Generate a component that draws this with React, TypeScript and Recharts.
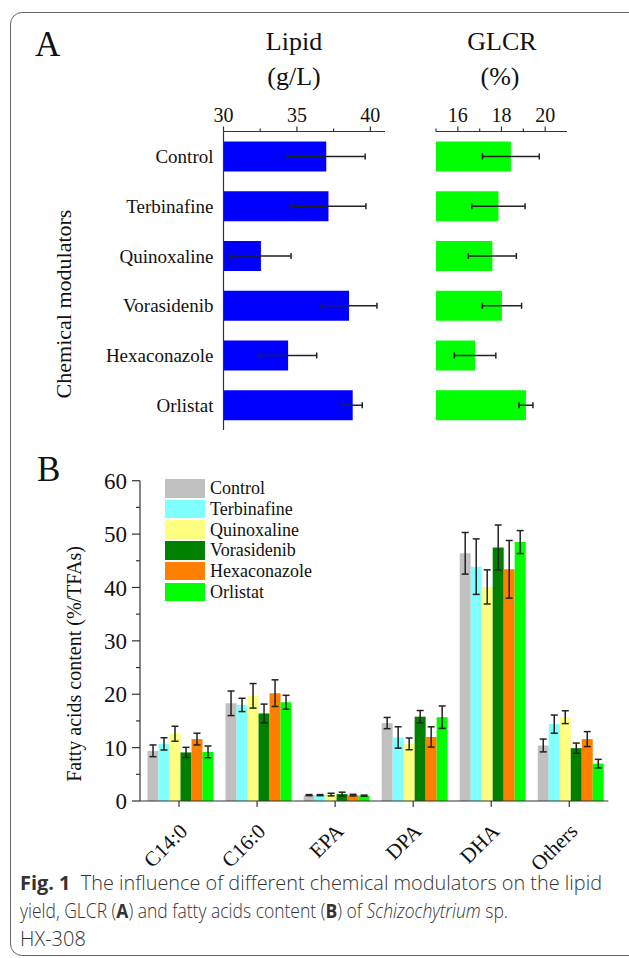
import { BarChart, Bar, XAxis, YAxis, ErrorBar } from 'recharts';

const serif = '"Liberation Serif", "Times New Roman", serif';
const sans = '"Open Sans", "Noto Sans", sans-serif';

// panel A
const modulators = ['Control', 'Terbinafine', 'Quinoxaline', 'Vorasidenib', 'Hexaconazole', 'Orlistat'];
const lipid = [37.0, 37.15, 32.55, 38.55, 34.4, 38.8];
const lipidErr = [2.65, 2.55, 2.05, 1.9, 1.95, 0.65];
const glcr = [18.43, 17.86, 17.58, 18.02, 16.79, 19.12];
const glcrErr = [1.3, 1.22, 1.1, 0.9, 0.95, 0.32];
const lipidTicks = [30, 32.5, 35, 37.5, 40];
const glcrTicks = [15, 16, 17, 18, 19, 20];

// panel B
const fattyAcids = ['C14:0', 'C16:0', 'EPA', 'DPA', 'DHA', 'Others'];
const controlFA = [9.4, 18.3, 1.1, 14.6, 46.4, 10.4];
const controlErr = [1.1, 2.3, 0.1, 1.05, 3.9, 1.2];
const terbinafineFA = [10.7, 18.0, 1.1, 11.9, 43.9, 14.4];
const terbinafineErr = [1.15, 1.25, 0.1, 2.0, 5.2, 1.7];
const quinoxalineFA = [12.6, 19.7, 1.2, 10.7, 40.1, 15.7];
const quinoxalineErr = [1.4, 2.3, 0.25, 1.1, 3.2, 1.2];
const vorasidenibFA = [9.1, 16.4, 1.3, 15.8, 47.5, 9.9];
const vorasidenibErr = [0.95, 1.75, 0.35, 1.15, 4.2, 0.95];
const hexaconazoleFA = [11.6, 20.2, 1.1, 12.0, 43.4, 11.6];
const hexaconazoleErr = [1.1, 2.5, 0.15, 1.9, 5.4, 1.4];
const orlistatFA = [9.2, 18.5, 1.0, 15.7, 48.5, 7.0];
const orlistatErr = [1.1, 1.3, 0.1, 2.1, 2.15, 0.8];
const faTicks = [0, 5, 10, 15, 20, 25, 30, 35, 40, 45, 50, 55, 60];
const groupEdges = [0, 1, 2, 3, 4, 5, 6];

const series = [
  { key: 'Control', values: controlFA, errs: controlErr, color: '#c0c0c0' },
  { key: 'Terbinafine', values: terbinafineFA, errs: terbinafineErr, color: '#80ffff' },
  { key: 'Quinoxaline', values: quinoxalineFA, errs: quinoxalineErr, color: '#ffff80' },
  { key: 'Vorasidenib', values: vorasidenibFA, errs: vorasidenibErr, color: '#008000' },
  { key: 'Hexaconazole', values: hexaconazoleFA, errs: hexaconazoleErr, color: '#ff8000' },
  { key: 'Orlistat', values: orlistatFA, errs: orlistatErr, color: '#00ff00' },
];

const panelA = modulators.map((name, i) => ({
  name,
  lipid: lipid[i],
  lipidErr: lipidErr[i],
  glcr: glcr[i],
  glcrErr: glcrErr[i],
}));

const panelB = fattyAcids.map((name, i) => {
  const row: any = { name };
  series.forEach((s) => {
    row[s.key] = s.values[i];
    row[s.key + 'Err'] = s.errs[i];
  });
  return row;
});

const axisColor = '#333';

function TopTick(props: any) {
  const { x, y, payload, isMajor } = props;
  const major = isMajor(payload.value);
  return (
    <g>
      <line x1={x} x2={x} y1={y} y2={y - (major ? 5 : 3)} stroke={axisColor} strokeWidth={1.2} />
      {major && (
        <text x={x} y={y - 10} textAnchor="middle" fontSize={20} fontFamily={serif} fill="#111">
          {payload.value}
        </text>
      )}
    </g>
  );
}

function LeftTick(props: any) {
  const { x, y, payload } = props;
  const major = payload.value % 10 === 0;
  return (
    <g>
      <line x1={x} x2={x - (major ? 8 : 4)} y1={y} y2={y} stroke={axisColor} strokeWidth={1.2} />
      {major && (
        <text x={x - 13} y={y} dy="0.35em" textAnchor="end" fontSize={23} fontFamily={serif} fill="#111">
          {payload.value}
        </text>
      )}
    </g>
  );
}

export default function App() {
  return (
    <div style={{ position: 'absolute', left: 0, top: 0, width: 629, height: 958, background: '#fff', overflow: 'hidden' }}>
      <div
        style={{
          position: 'absolute',
          left: 10,
          top: 12,
          width: 660,
          height: 944,
          border: '1.5px solid #666',
          borderRadius: 12,
          boxSizing: 'border-box',
        }}
      />

      {/* A: lipid */}
      <div style={{ position: 'absolute', left: 0, top: 100 }}>
        <BarChart width={400} height={340} data={panelA} layout="vertical" margin={{ top: 0, right: 15, bottom: 10, left: 23 }} barCategoryGap={10}>
          <XAxis
            type="number"
            orientation="top"
            domain={[30, 41]}
            ticks={lipidTicks}
            interval={0}
            allowDataOverflow
            height={31.5}
            tickSize={0}
            tickMargin={0}
            tickLine={false}
            axisLine={{ stroke: axisColor, strokeWidth: 1.2 }}
            tick={<TopTick isMajor={(v: number) => v % 5 === 0} />}
          />
          <YAxis
            type="category"
            dataKey="name"
            width={200.5}
            tickSize={0}
            tickMargin={10}
            tickLine={false}
            axisLine={{ stroke: axisColor, strokeWidth: 1.2 }}
            tick={{ fontSize: 19, fontFamily: serif, fill: '#111' }}
          />
          <Bar dataKey="lipid" fill="#0000ff" barSize={30} isAnimationActive={false}>
            <ErrorBar dataKey="lipidErr" direction="x" width={3} stroke="#222" strokeWidth={1.5} />
          </Bar>
        </BarChart>
      </div>

      {/* A: GLCR */}
      <div style={{ position: 'absolute', left: 400, top: 100 }}>
        <BarChart width={229} height={340} data={panelA} layout="vertical" margin={{ top: 0, right: 62, bottom: 10, left: 36 }} barCategoryGap={10}>
          <XAxis
            type="number"
            orientation="top"
            domain={[15, 21]}
            ticks={glcrTicks}
            interval={0}
            allowDataOverflow
            height={31.5}
            tickSize={0}
            tickMargin={0}
            tickLine={false}
            axisLine={{ stroke: axisColor, strokeWidth: 1.2 }}
            tick={<TopTick isMajor={(v: number) => v % 2 === 0} />}
          />
          <YAxis
            type="category"
            dataKey="name"
            width={0}
            tick={false}
            tickLine={false}
            axisLine={{ stroke: axisColor, strokeWidth: 1.2 }}
          />
          <Bar dataKey="glcr" fill="#00ff00" barSize={30} isAnimationActive={false}>
            <ErrorBar dataKey="glcrErr" direction="x" width={3} stroke="#222" strokeWidth={1.5} />
          </Bar>
        </BarChart>
      </div>

      {/* B */}
      <div style={{ position: 'absolute', left: 0, top: 460 }}>
        <BarChart width={629} height={420} data={panelB} margin={{ top: 20.7, right: 20.7, bottom: 20, left: 0 }} barCategoryGap={7.5} barGap={0}>
          <XAxis
            xAxisId="edges"
            type="number"
            domain={[0, 6]}
            ticks={groupEdges}
            interval={0}
            height={0}
            tick={false}
            tickSize={4}
            axisLine={false}
            tickLine={{ stroke: axisColor, strokeWidth: 1.2 }}
          />
          <XAxis
            dataKey="name"
            height={59}
            interval={0}
            tickSize={6}
            tickMargin={2}
            tickLine={{ stroke: axisColor, strokeWidth: 1.2 }}
            axisLine={{ stroke: axisColor, strokeWidth: 1.2 }}
            tick={{ angle: -45, textAnchor: 'end', fontSize: 21, fontFamily: serif, fill: '#111', dx: -1, dy: 13 }}
          />
          <YAxis
            type="number"
            domain={[0, 60]}
            ticks={faTicks}
            interval={0}
            width={140}
            tickSize={0}
            tickMargin={0}
            tickLine={false}
            axisLine={{ stroke: axisColor, strokeWidth: 1.2 }}
            tick={<LeftTick />}
          />
          {series.map((s) => (
            <Bar key={s.key} dataKey={s.key} fill={s.color} isAnimationActive={false}>
              <ErrorBar dataKey={s.key + 'Err'} direction="y" width={3.5} stroke="#222" strokeWidth={1.5} />
            </Bar>
          ))}
        </BarChart>
      </div>

      {/* legend B */}
      <div style={{ position: 'absolute', left: 165, top: 478, fontFamily: serif, fontSize: 18, color: '#111' }}>
        {series.map((s) => (
          <div key={s.key} style={{ display: 'flex', alignItems: 'center', height: 20.7 }}>
            <div style={{ width: 40, height: 18.5, background: s.color, marginRight: 5 }} />
            <span style={{ lineHeight: '20px' }}>{s.key}</span>
          </div>
        ))}
      </div>

      {/* titles, axis labels, caption */}
      <svg width={629} height={958} style={{ position: 'absolute', left: 0, top: 0, pointerEvents: 'none' }}>
        <g fontFamily={serif} fill="#111">
          <text x={35} y={56} fontSize={35}>A</text>
          <text x={294} y={50} fontSize={26} textAnchor="middle">Lipid</text>
          <text x={294} y={85} fontSize={26} textAnchor="middle">(g/L)</text>
          <text x={502} y={50} fontSize={26} textAnchor="middle">GLCR</text>
          <text x={500} y={85} fontSize={26} textAnchor="middle">(%)</text>
          <text x={63.5} y={304} fontSize={22} textAnchor="middle" dy="0.35em" transform="rotate(-90 63.5 304)">
            Chemical modulators
          </text>
          <text x={37} y={481} fontSize={35}>B</text>
          <text x={74} y={664} fontSize={20} textAnchor="middle" dy="0.35em" transform="rotate(-90 74 664)">
            Fatty acids content (%/TFAs)
          </text>
        </g>
        <g fontFamily={sans} fill="#333" fontSize={20} fontWeight={300}>
          <text x={20} y={890} textLength={582} lengthAdjust="spacingAndGlyphs">
            <tspan fontWeight={700}>Fig. 1</tspan>
            <tspan>{'\u00a0\u00a0The influence of different chemical modulators on the lipid'}</tspan>
          </text>
          <text x={20} y={918} textLength={488} lengthAdjust="spacingAndGlyphs">
            yield, GLCR (<tspan fontWeight={700}>A</tspan>) and fatty acids content (<tspan fontWeight={700}>B</tspan>) of{' '}
            <tspan fontStyle="italic">Schizochytrium</tspan> sp.
          </text>
          <text x={20} y={946}>HX-308</text>
        </g>
      </svg>
    </div>
  );
}
